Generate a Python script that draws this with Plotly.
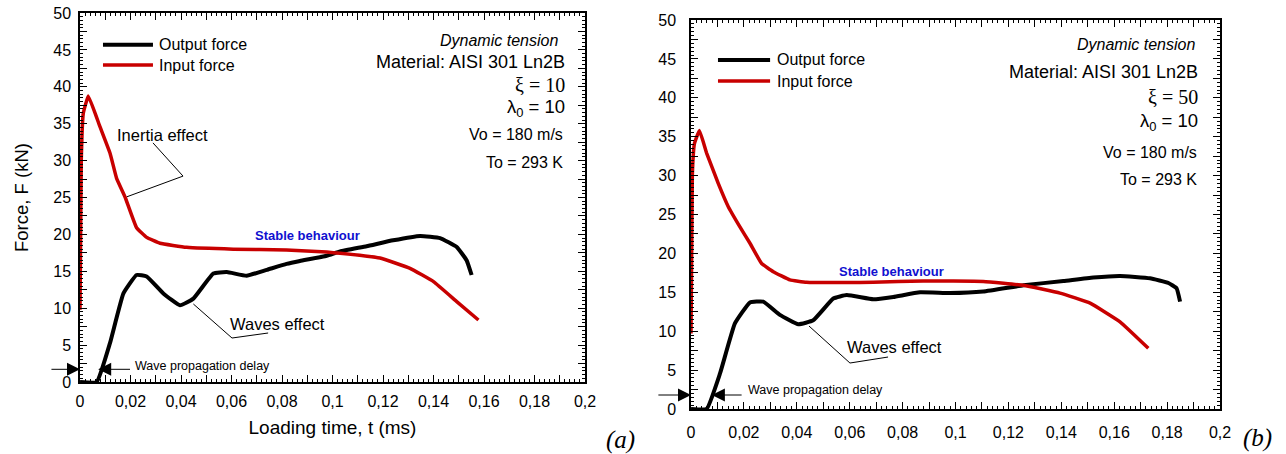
import plotly.graph_objects as go

# ---------------- data ----------------
# Panel (a): xi = 10
t_out_a = [0, 0.0066, 0.0119, 0.0172, 0.0224, 0.0264, 0.033, 0.0396, 0.0449, 0.0528, 0.0581,
           0.066, 0.074, 0.0818, 0.0871, 0.0977, 0.103, 0.1135, 0.124, 0.1347, 0.1426, 0.1492,
           0.1531, 0.1551]
f_out_a = [0, 0, 5.3, 12.0, 14.5, 14.3, 12.0, 10.4, 11.3, 14.7, 14.9,
           14.4, 15.2, 16.0, 16.4, 17.1, 17.7, 18.4, 19.2, 19.8, 19.5, 18.3,
           16.5, 14.5]
t_in_a = [0, 0.0005, 0.0013, 0.0033, 0.0079, 0.0119, 0.0145, 0.0178, 0.0224, 0.0264, 0.0317,
          0.0422, 0.0607, 0.0818, 0.0977, 0.103, 0.1188, 0.1307, 0.14, 0.1492, 0.1578]
f_in_a = [9.8, 30, 36.4, 38.75, 34.6, 31.0, 27.6, 25.1, 20.9, 19.6, 18.8,
          18.25, 18.0, 17.9, 17.6, 17.45, 16.8, 15.4, 13.6, 10.9, 8.4]

# Panel (b): xi = 50
t_out_b = [0, 0.0059, 0.011, 0.0166, 0.0223, 0.0273, 0.0336, 0.0406, 0.0462, 0.0538, 0.0589,
           0.0689, 0.0765, 0.0866, 0.0979, 0.1105, 0.1257, 0.1408, 0.1521, 0.1622, 0.1735,
           0.1805, 0.1836, 0.1849]
f_out_b = [0, 0, 4.6, 11.0, 13.7, 13.8, 12.1, 10.9, 11.4, 14.2, 14.65,
           14.1, 14.4, 15.0, 14.9, 15.1, 15.9, 16.45, 16.9, 17.1, 16.8,
           16.2, 15.5, 13.8]
t_in_b = [0, 0.0005, 0.0013, 0.0032, 0.0059, 0.0103, 0.0141, 0.0185, 0.0223, 0.0267, 0.0311,
          0.0374, 0.0437, 0.0689, 0.0878, 0.1105, 0.1257, 0.1395, 0.1509, 0.1622, 0.1729]
f_in_b = [9.7, 30, 34.1, 35.8, 32.9, 29.0, 26.0, 23.4, 21.3, 18.7, 17.65,
          16.6, 16.3, 16.3, 16.45, 16.4, 15.9, 14.9, 13.6, 11.2, 7.8]

series_names = ["Output force", "Input force"]
x_tick_vals = [round(i * 0.01, 2) for i in range(21)]
x_tick_text = ["0", "", "0,02", "", "0,04", "", "0,06", "", "0,08", "", "0,1", "",
               "0,12", "", "0,14", "", "0,16", "", "0,18", "", "0,2"]
y_tick_vals = [i * 2.5 for i in range(21)]
y_tick_text = [str(int(v)) if i % 2 == 0 else "" for i, v in enumerate(y_tick_vals)]

info_a = ["Dynamic tension", "Material: AISI 301 Ln2B", "ξ = 10", "λ<sub>0</sub> = 10",
          "Vo = 180 m/s", "To = 293 K"]
info_b = ["Dynamic tension", "Material: AISI 301 Ln2B", "ξ = 50", "λ<sub>0</sub> = 10",
          "Vo = 180 m/s", "To = 293 K"]

BLACK = "#000000"
RED = "#c80000"
SANS = "Liberation Sans, Arial, sans-serif"
SERIF = "Liberation Serif, Times New Roman, serif"

fig = go.Figure()
for (tx, fx, ti, fi, xa, ya) in [
    (t_out_a, f_out_a, t_in_a, f_in_a, "x", "y"),
    (t_out_b, f_out_b, t_in_b, f_in_b, "x2", "y2"),
]:
    fig.add_trace(go.Scatter(x=tx, y=fx, mode="lines", name=series_names[0], xaxis=xa, yaxis=ya,
                             line=dict(color=BLACK, width=4, shape="spline", smoothing=0.35),
                             showlegend=False))
    fig.add_trace(go.Scatter(x=ti, y=fi, mode="lines", name=series_names[1], xaxis=xa, yaxis=ya,
                             line=dict(color=RED, width=3.5, shape="spline", smoothing=0.3),
                             showlegend=False))


def axis_style(is_x):
    d = dict(
        showline=True, linecolor="black", linewidth=1.5, mirror="allticks",
        ticks="inside", ticklen=7, tickwidth=1, tickcolor="black",
        showgrid=False, zeroline=False, automargin=False,
        tickfont=dict(family=SANS, size=16, color="black"),
        tickmode="array",
    )
    if is_x:
        d.update(range=[0, 0.2], tickvals=x_tick_vals, ticktext=x_tick_text,
                 minor=dict(ticks="inside", ticklen=3.5, dtick=0.002, tick0=0,
                            tickcolor="black", showgrid=False))
    else:
        d.update(range=[0, 50], tickvals=y_tick_vals, ticktext=y_tick_text,
                 minor=dict(ticks="inside", ticklen=3.5, dtick=0.5, tick0=0,
                            tickcolor="black", showgrid=False))
    return d


xa = axis_style(True)
xa.update(domain=[80 / 1286, 585 / 1286], anchor="y", ticklabelstandoff=4,
          title=dict(text="Loading time, t (ms)", font=dict(family=SANS, size=19, color="black"),
                     standoff=12))
ya = axis_style(False)
ya.update(domain=[1 - 382 / 454, 1 - 13 / 454], anchor="x", ticklabelstandoff=4,
          title=dict(text="Force, F (kN)", font=dict(family=SANS, size=18.5, color="black"),
                     standoff=20))
xb = axis_style(True)
xb.update(domain=[691 / 1286, 1220 / 1286], anchor="y2", ticklabelstandoff=8)
yb = axis_style(False)
yb.update(domain=[1 - 409 / 454, 1 - 20 / 454], anchor="x2", ticklabelstandoff=10)

annotations = []
shapes = []


def txt(text, x, y, xref, yref, size, xanchor="left", family=SANS, color="black",
        italic=False, bold=False):
    if italic:
        text = "<i>" + text + "</i>"
    if bold:
        text = "<b>" + text + "</b>"
    annotations.append(dict(text=text, x=x, y=y, xref=xref, yref=yref, showarrow=False,
                            xanchor=xanchor, yanchor="middle",
                            font=dict(family=family, size=size, color=color)))


def seg(xs, ys, xref, yref, color="black", width=1):
    for i in range(len(xs) - 1):
        shapes.append(dict(type="line", xref=xref, yref=yref, x0=xs[i], y0=ys[i],
                           x1=xs[i + 1], y1=ys[i + 1], line=dict(color=color, width=width)))


def arrow(x_head, x_tail, y, xref, yref):
    annotations.append(dict(text="", x=x_head, y=y, ax=x_tail, ay=y, xref=xref, yref=yref,
                            axref=xref, ayref=yref, showarrow=True, arrowhead=2,
                            arrowsize=2.6, arrowwidth=1, arrowcolor="black", standoff=0))


panels = [
    dict(xr="x", yr="y", info=info_a,
         leg=[(0.0091, 0.0289, 45.7, 0.0305), (0.0091, 0.0289, 42.95, 0.0305)],
         info_x=[0.190, 0.1929, 0.1929, 0.1929, 0.1921, 0.1921],
         info_y=[46.3, 43.4, 40.2, 37.1, 33.6, 29.8],
         stable=(0.0685, 19.9),
         waves_txt=(0.0586, 7.86), waves_line=([0.0449, 0.0602, 0.0745], [10.57, 5.96, 6.64]),
         delay_txt=(0.021, 2.2), arr_y=1.72, arr_left=(0.0, -0.0119), arr_right=(0.0072, 0.0204)),
    dict(xr="x2", yr="y2", info=info_b,
         leg=[(0.0102, 0.0299, 44.86, 0.0318), (0.0102, 0.0299, 42.16, 0.0318)],
         info_x=[0.1913, 0.1924, 0.1924, 0.1924, 0.1920, 0.1920],
         info_y=[46.8, 43.3, 40.1, 36.9, 33.0, 29.56],
         stable=(0.0552, 17.7),
         waves_txt=(0.0582, 7.97), waves_line=([0.0446, 0.0601, 0.0745], [10.67, 5.91, 6.68]),
         delay_txt=(0.0208, 2.44), arr_y=1.8, arr_left=(0.0, -0.0129), arr_right=(0.0079, 0.0197)),
]

for p in panels:
    xr, yr = p["xr"], p["yr"]
    # legend samples
    for (x0, x1, yv, xt), name, col, w in zip(p["leg"], series_names, [BLACK, RED], [4, 3.5]):
        shapes.append(dict(type="line", xref=xr, yref=yr, x0=x0, x1=x1, y0=yv, y1=yv,
                           line=dict(color=col, width=w)))
        txt(name, xt, yv, xr, yr, 16)
    # information block
    sizes = [16, 18, 20, 18.5, 16, 16]
    fams = [SANS, SANS, SERIF, SANS, SANS, SANS]
    for k, s in enumerate(p["info"]):
        txt(s, p["info_x"][k], p["info_y"][k], xr, yr, sizes[k], xanchor="right",
            family=fams[k], italic=(k == 0))
    txt("Stable behaviour", p["stable"][0], p["stable"][1], xr, yr, 13, color="#1010d0", bold=True)
    txt("Waves effect", p["waves_txt"][0], p["waves_txt"][1], xr, yr, 16.5)
    seg(p["waves_line"][0], p["waves_line"][1], xr, yr)
    txt("Wave propagation delay", p["delay_txt"][0], p["delay_txt"][1], xr, yr, 12.5)
    arrow(p["arr_left"][0], p["arr_left"][1], p["arr_y"], xr, yr)
    arrow(p["arr_right"][0], p["arr_right"][1], p["arr_y"], xr, yr)

# Inertia effect (panel a only)
txt("Inertia effect", 0.0325, 33.5, "x", "y", 16.5, xanchor="center")
seg([0.0289, 0.0408, 0.0186], [32.4, 27.9, 25.1], "x", "y")

# panel tags
txt("(a)", 620 / 1286, 1 - 440 / 454, "paper", "paper", 25, xanchor="center", family=SERIF, italic=True)
txt("(b)", 1257 / 1286, 1 - 438 / 454, "paper", "paper", 25, xanchor="center", family=SERIF, italic=True)

fig.update_layout(
    width=1286, height=454,
    margin=dict(l=0, r=0, t=0, b=0),
    paper_bgcolor="white", plot_bgcolor="white",
    separators=",.",
    xaxis=xa, yaxis=ya, xaxis2=xb, yaxis2=yb,
    annotations=annotations, shapes=shapes,
    showlegend=False,
    font=dict(family=SANS, color="black"),
)

fig.write_html(
    "out.html",
    config={"displayModeBar": False},
    post_script="document.body.style.margin='0';document.body.style.padding='0';"
                "document.body.style.overflow='hidden';",
)
